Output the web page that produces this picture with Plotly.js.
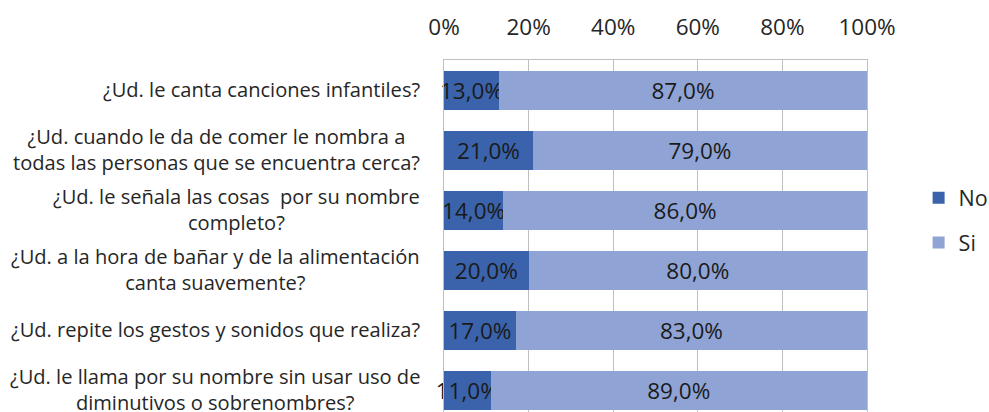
<!DOCTYPE html>
<html>
<head>
<meta charset="utf-8">
<script src="https://cdn.plot.ly/plotly-3.0.1.min.js"></script>
<style>html,body{margin:0;padding:0;background:#fff;}#chart{width:989px;height:412px;}</style>
</head>
<body>
<div id="chart"></div>
<script>
const categories = [
  "¿Ud. le canta canciones infantiles?",
  "¿Ud. cuando le da de comer le nombra a<br>todas las personas que se encuentra cerca?",
  "¿Ud. le señala las cosas  por su nombre<br>completo?",
  "¿Ud. a la hora de bañar y de la alimentación<br>canta suavemente?",
  "¿Ud. repite los gestos y sonidos que realiza?",
  "¿Ud. le llama por su nombre sin usar uso de<br>diminutivos o sobrenombres?"
];
const noValues = [13, 21, 14, 20, 17, 11];
const siValues = [87, 79, 86, 80, 83, 89];
const seriesNames = ["No", "Si"];
const tickVals = [0, 20, 40, 60, 80, 100];
const tickText = ["0%", "20%", "40%", "60%", "80%", "100%"];

const FONT = "'Open Sans', Lato, sans-serif";
const fmt = v => v.toFixed(1).replace(".", ",") + "%";

const mk = (name, vals, color, grp) => ({
  type: "bar", orientation: "h", name: name,
  x: vals, y: categories.map((c, i) => i),
  marker: {color: color, line: {width: 0}},
  text: vals.map(fmt), textposition: "inside", insidetextanchor: "middle",
  constraintext: "none", cliponaxis: false,
  textfont: {family: FONT, size: 22.5, color: "#1a1a1a"},
  legendgroup: grp, hoverinfo: "skip"
});

const data = [
  mk(seriesNames[0], noValues, "#3A63AC", "a"),
  mk(seriesNames[1], siValues, "#8FA4D5", "b")
];

const annotations = categories.map((c, i) => ({
  xref: "paper", yref: "y", x: 0, y: i, xshift: -22, yshift: 1,
  xanchor: "right", yanchor: "middle", align: "center",
  text: c, showarrow: false,
  font: {family: FONT, size: 20.1, color: "#262626"}
}));

const layout = {
  width: 989, height: 412,
  margin: {l: 444, r: 122, t: 60, b: 0, pad: 0, autoexpand: false},
  paper_bgcolor: "#fff", plot_bgcolor: "#fff",
  barmode: "stack", bargap: 0.35,
  showlegend: true,
  legend: {x: 1.122, xanchor: "left", y: 0.545, yanchor: "middle",
           traceorder: "grouped", tracegroupgap: 14,
           font: {family: FONT, size: 21.5, color: "#262626"}},
  xaxis: {side: "top", range: [0, 100], tickvals: tickVals, ticktext: tickText,
          showgrid: true, gridcolor: "#BFBFBF", gridwidth: 1,
          showline: true, linecolor: "#BFBFBF", linewidth: 1, mirror: true,
          zeroline: false, ticks: "", ticklabelstandoff: 15,
          tickfont: {family: FONT, size: 22.5, color: "#262626"}, fixedrange: true},
  yaxis: {range: [5.3667, -0.5], showticklabels: false, showgrid: false,
          showline: true, linecolor: "#BFBFBF", linewidth: 1, mirror: true,
          zeroline: false, ticks: "", fixedrange: true},
  annotations: annotations,
  font: {family: FONT}
};

Plotly.newPlot("chart", data, layout, {displayModeBar: false, staticPlot: true});
</script>
</body>
</html>
